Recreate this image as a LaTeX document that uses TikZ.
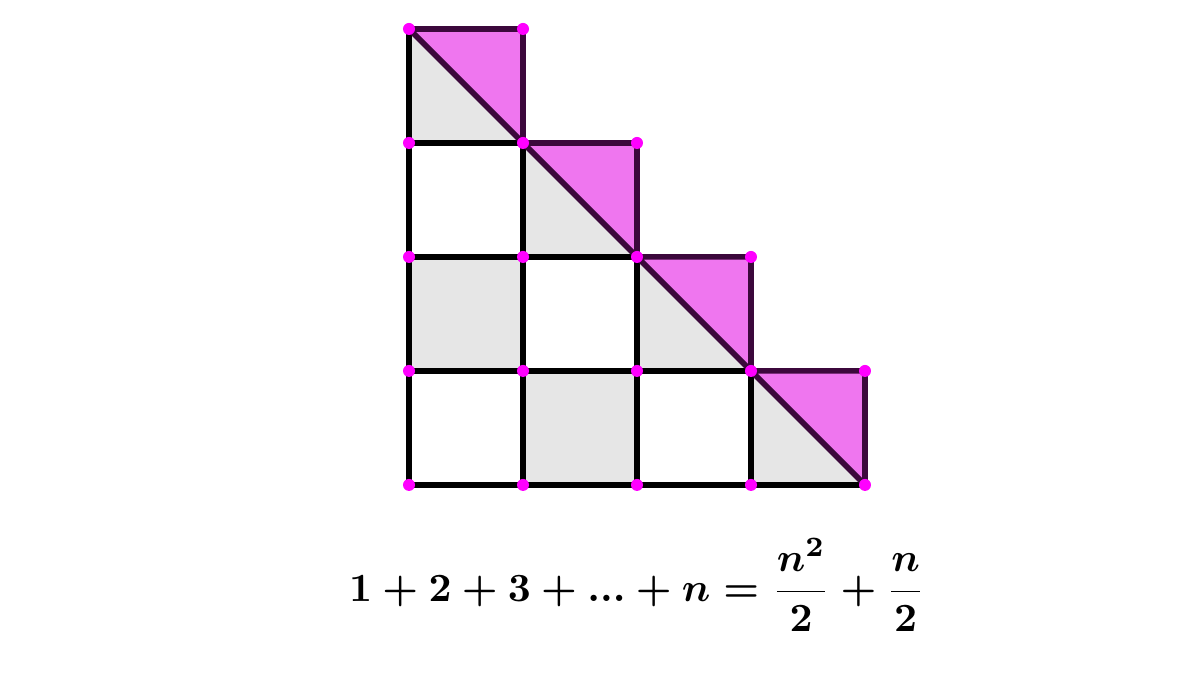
\documentclass[tikz,border=0pt]{standalone}
\usepackage{amsmath}
\definecolor{cellgray}{RGB}{230,230,230}
\definecolor{trifill}{RGB}{239,118,239}
\definecolor{triedge}{RGB}{60,8,60}
\definecolor{dotpink}{RGB}{255,0,255}
\begin{document}
\begin{tikzpicture}[line width=1.4pt,
  grid/.style={draw=black},
  halftri/.style={fill=trifill, draw=triedge, line join=round},
  vertex/.style={fill=dotpink, circle, inner sep=0pt, minimum size=3pt}]
\useasboundingbox (-3.588,-1.649) rectangle (6.939,4.254);
% gray cells of the staircase
\fill[cellgray](0,1) rectangle (1,2);
\fill[cellgray](1,0) rectangle (2,1);
\foreach \i in {0,...,3}
  \fill[cellgray](\i,4-\i)--(\i,3-\i)--(\i+1,3-\i)--cycle;
% black grid
\foreach \k in {0,...,3}{
  \draw[grid](0,\k)--(4-\k,\k);
  \draw[grid](\k,0)--(\k,4-\k);
}
% pink halves on the diagonal
\foreach \i in {0,...,3}
  \draw[halftri](\i,4-\i)--(\i+1,4-\i)--(\i+1,3-\i)--cycle;
% grid points
\foreach \i/\h in {0/4,1/4,2/3,3/2,4/1}
  \foreach \j in {0,...,\h}
    \node[vertex] (p\i\j) at (\i,\j){};
\node[font=\fontsize{10.2}{12}\selectfont\boldmath] (sum) at (2,-0.88)
  {$1+2+3+...+n=\dfrac{n^2}{2}+\dfrac{n}{2}$};
\end{tikzpicture}
\end{document}
